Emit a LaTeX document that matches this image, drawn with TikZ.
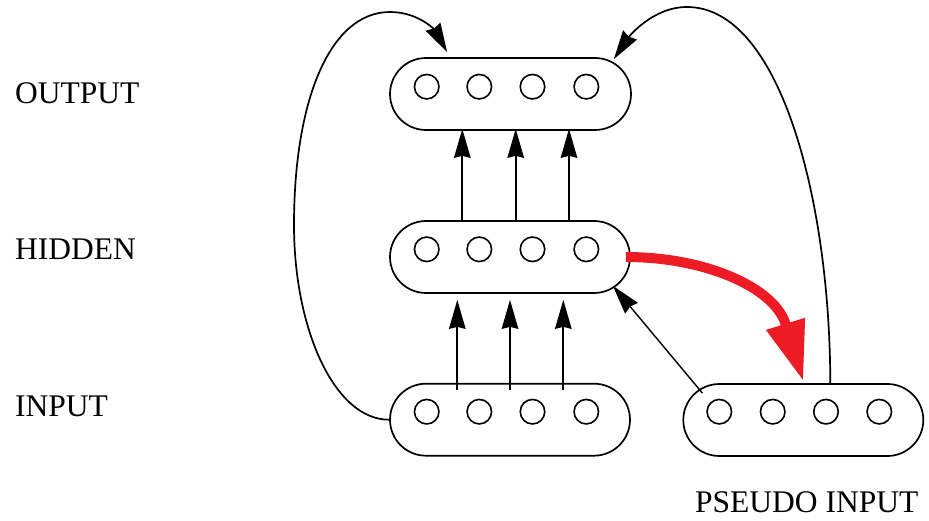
\documentclass[tikz,border=0pt]{standalone}
\usepackage{fontspec}
\setmainfont{Liberation Serif}
\usetikzlibrary{arrows.meta}
\definecolor{myred}{RGB}{237,28,36}
\begin{document}
\begin{tikzpicture}[x=1pt,y=-1pt,
 pill/.style={draw, line width=1.7pt, rounded corners=36pt, minimum width=240pt, minimum height=72pt, inner sep=0pt},
 unit/.style={draw, circle, line width=1.6pt, minimum size=24.5pt, inner sep=0pt},
 lab/.style={anchor=base west, inner sep=0pt, font=\fontsize{31.5}{36}\selectfont},
 arr/.style={line width=1.7pt, -{Stealth[length=29pt,width=16.5pt,inset=2pt]}},
 redarr/.style={line width=10pt, draw=myred, -{Triangle[length=60pt,width=38pt]}}]
\useasboundingbox (0,0) rectangle (929,521);

% labels
\node[lab] (lout) at (15,104) {OUTPUT};
\node[lab] (lhid) at (15,260) {HIDDEN};
\node[lab] (linp) at (15,416) {INPUT};
\node[lab] (lpse) at (695,512) {PSEUDO INPUT};

% pills
\node[pill, minimum width=241pt] (out) at (510.5,94) {};
\node[pill] (hid) at (510,257) {};
\node[pill] (inp) at (510,419.7) {};
\node[pill] (pse) at (803.3,420) {};

% units
\foreach \i/\x in {1/426.7,2/479.3,3/532.5,4/586.3}{
  \node[unit] (out\i) at (\x,86.7) {};
  \node[unit] (hid\i) at (\x,249.3) {};
  \node[unit] (inp\i) at (\x,411.7) {};
}
\foreach \i/\x in {1/719.3,2/772.7,3/826,4/879.3}{
  \node[unit] (pse\i) at (\x,411.7) {};
}

% hidden -> output
\foreach \dx in {-47.7,5.7,59}{
  \draw[arr] ([xshift=\dx pt]hid.north) -- ([xshift=\dx pt,yshift=2pt]hid.north |- out.south);
}
% input -> hidden
\foreach \dx in {-52.7,0,53.3}{
  \draw[arr] ([xshift=\dx pt,yshift=-7pt]inp.north) -- ([xshift=\dx pt,yshift=-6pt]hid.south);
}
% pseudo -> hidden
\draw[arr, line width=1.4pt] ([xshift=20pt,yshift=-10pt]pse.north west) -- ([xshift=-18pt,yshift=8pt]hid.south east);

% input -> output (recurrent left)
\draw[arr] (inp.west) .. controls (335,420) and (294,330) .. (294,225)
  .. controls (294,100) and (330,12) .. (390,12)
  .. controls (420,12) and (436,32) .. ([xshift=58pt,yshift=5pt]out.north west);

% pseudo -> output (right)
\draw[arr] ([xshift=27pt]pse.north) .. controls (830,200) and (780,7) .. (687,7)
  .. controls (652,7) and (628,38) .. ([xshift=-18pt,yshift=-2pt]out.north east);

% red copy arrow
\coordinate (redtip) at ([yshift=2pt]pse.north);
\coordinate (redbase) at ([xshift=-18pt,yshift=58pt]redtip);
\draw[redarr] ([xshift=-5pt]hid.east) .. controls (705,257) and (773,287) .. (redbase) -- (redtip);
\end{tikzpicture}
\end{document}
